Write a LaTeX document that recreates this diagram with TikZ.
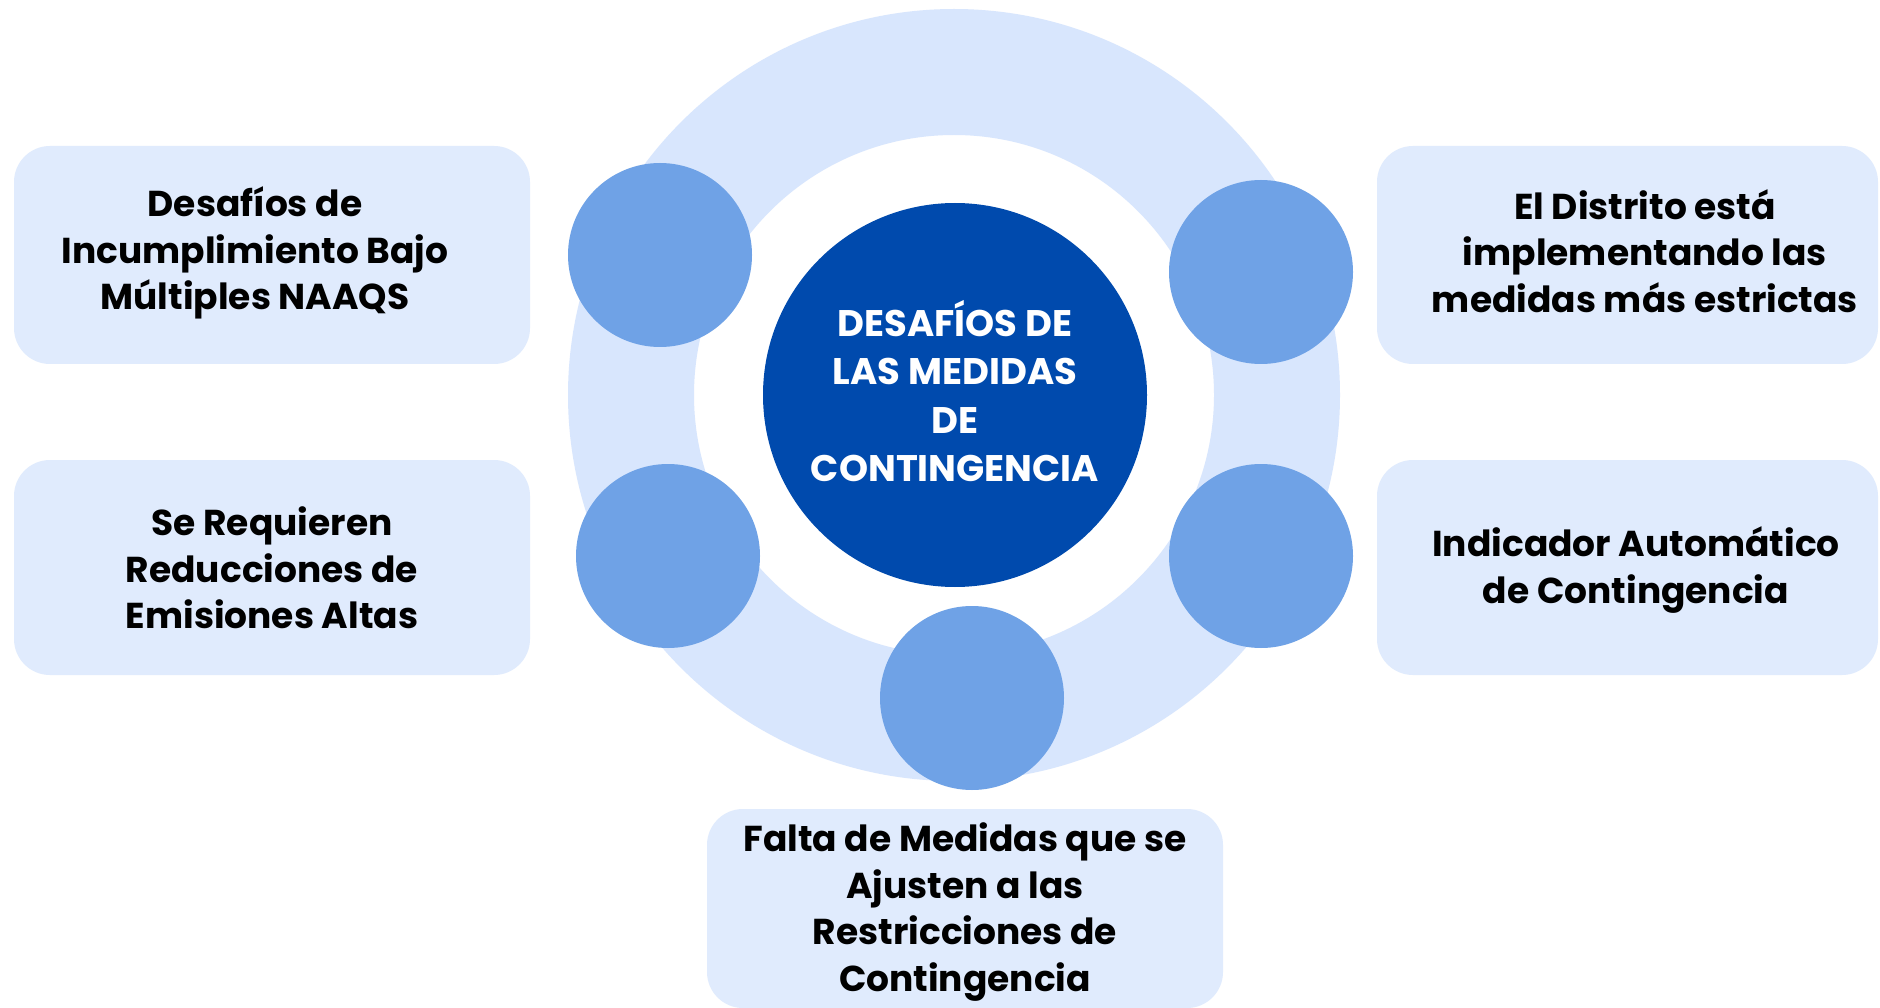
\documentclass[tikz,border=0pt]{standalone}
\usepackage{fontspec}
\setmainfont{Poppins}
\definecolor{ringc}{HTML}{D8E6FD}
\definecolor{boxc}{HTML}{E0EBFD}
\definecolor{dotc}{HTML}{6FA2E6}
\definecolor{hubc}{HTML}{004AAD}
\begin{document}
\begin{tikzpicture}[x=1pt,y=-1pt,
  infobox/.style={fill=boxc, rounded corners=36pt, draw=none},
  dot/.style={circle, fill=dotc, minimum size=184pt, inner sep=0pt},
  label/.style={align=center, font=\fontsize{36}{46.5}\selectfont\bfseries, text=black},
  hublabel/.style={align=center, font=\fontsize{37}{48.5}\selectfont\bfseries, text=white}]
\useasboundingbox (0,0) rectangle (1880,1008);
\fill[white] (0,0) rectangle (1880,1008);
% boxes
\path[infobox] (14,146) rectangle (530,364);
\path[infobox] (14,460) rectangle (530,675);
\path[infobox] (1377,146) rectangle (1878,364);
\path[infobox] (1377,460) rectangle (1878,675);
\path[infobox] (707,809) rectangle (1223,1008);
\node[label] (t1) at (255,253) {Desafíos de\\Incumplimiento Bajo\\Múltiples NAAQS};
\node[label] (t2) at (272,568) {Se Requieren\\Reducciones de\\Emisiones Altas};
\node[label] (t3) at (1645,251) {El Distrito está\\implementando las\\medidas más estrictas};
\node[label] (t4) at (1636,570) {Indicador Automático\\de Contingencia};
\node[label] (t5) at (965,912) {Falta de Medidas que se\\Ajusten a las\\Restricciones de\\Contingencia};
% ring
\fill[ringc, even odd rule] (954,395) circle[radius=386pt] (954,395) circle[radius=260pt];
% hub
\node[circle, fill=hubc, minimum size=384pt, inner sep=0pt] (hub) at (955,395) {};
\node[hublabel] (hubt) at (955,391) {DESAFÍOS DE\\LAS MEDIDAS\\DE\\CONTINGENCIA};
% dots
\node[dot] (d1) at (660,255) {};
\node[dot] (d2) at (1261,272) {};
\node[dot] (d3) at (668,556) {};
\node[dot] (d4) at (1261,556) {};
\node[dot] (d5) at (972,698) {};
\end{tikzpicture}
\end{document}
